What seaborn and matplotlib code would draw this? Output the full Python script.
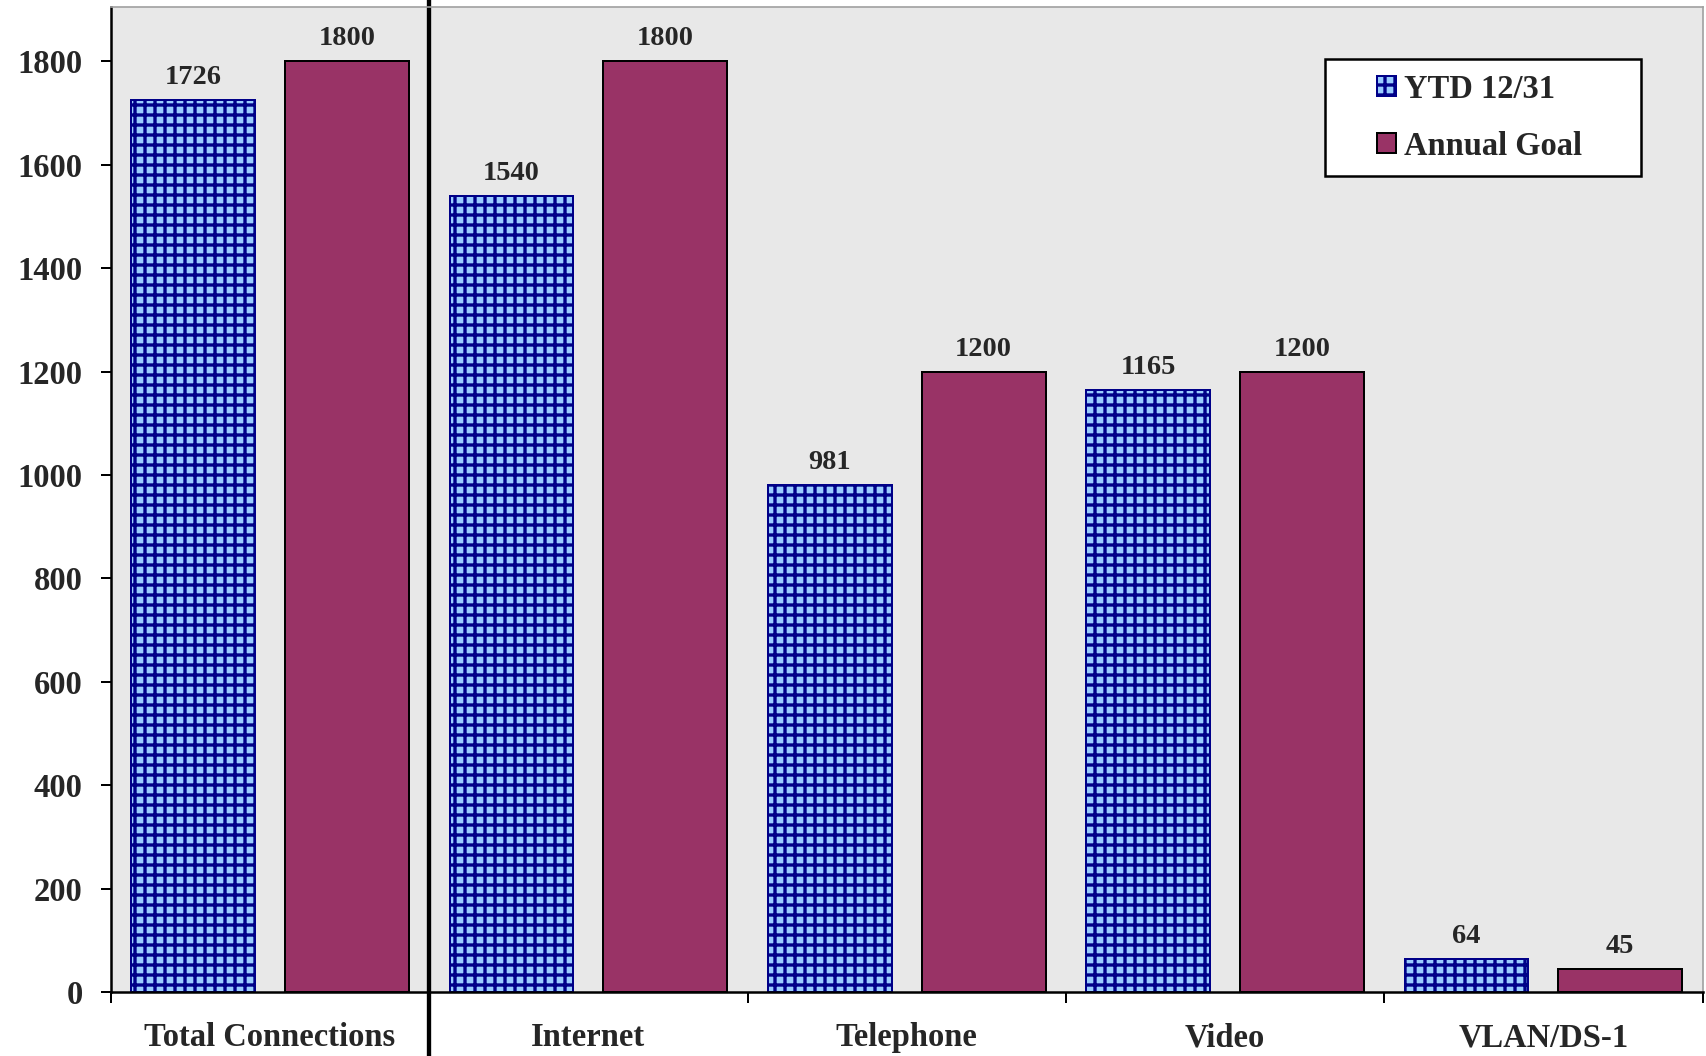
import matplotlib
matplotlib.use("Agg")
import matplotlib.pyplot as plt
from matplotlib.patches import Rectangle
from matplotlib.legend_handler import HandlerPatch, update_from_first_child
import seaborn as sns
import pandas as pd

# Connections by service: year-to-date vs. annual goal
categories = ["Total Connections", "Internet", "Telephone", "Video", "VLAN/DS-1"]
ytd_values = [1726, 1540, 981, 1165, 64]
goal_values = [1800, 1800, 1200, 1200, 45]
series_names = ["YTD 12/31", "Annual Goal"]
y_ticks = [0, 200, 400, 600, 800, 1000, 1200, 1400, 1600, 1800]

df = pd.DataFrame({
    "category": categories * 2,
    "series": [series_names[0]] * len(categories) + [series_names[1]] * len(categories),
    "value": ytd_values + goal_values,
})

sns.set_theme(style="white")
plt.rcParams["font.family"] = ["Liberation Serif", "DejaVu Serif"]
plt.rcParams["font.weight"] = "bold"
plt.rcParams["hatch.linewidth"] = 2.0

DPI = 120
fig = plt.figure(figsize=(1706 / DPI, 1056 / DPI), dpi=DPI)
fig.patch.set_facecolor("white")
ax = fig.add_axes([0.065, 0.0606, 0.933, 0.9328])
ax.set_facecolor("#E8E8E8")

sns.barplot(
    data=df, x="category", y="value", hue="series",
    palette=["#99CCFF", "#993366"], saturation=1,
    width=0.966, gap=0.195, edgecolor="black", linewidth=1.2,
    legend=False, ax=ax,
)

# grid pattern on the year-to-date bars
for bar in ax.containers[0]:
    bar.set_hatch("++")
    bar.set_edgecolor("#000088")

for cont in ax.containers:
    ax.bar_label(cont, fmt="%d", padding=6, fontsize=17, fontweight="bold")

ax.set_xlim(-0.5, len(categories) - 0.5)
ax.set_ylim(0, 1905)
ax.set_yticks(y_ticks)
ax.set_xlabel("")
ax.set_ylabel("")

ax.tick_params(axis="y", left=True, direction="out", length=6, width=1.2,
               pad=11, labelsize=19.5, color="black")
ax.set_xticks(range(len(categories)))
ax.set_xticklabels(categories)
ax.set_xticks([i - 0.5 for i in range(len(categories) + 1)], minor=True)
ax.tick_params(axis="x", which="major", bottom=False, length=0, pad=18, labelsize=19.5)
ax.tick_params(axis="x", which="minor", bottom=True, direction="out",
               length=6.5, width=1.2, color="black")

for side in ["left", "bottom"]:
    ax.spines[side].set_color("black")
    ax.spines[side].set_linewidth(1.5)
for side in ["top", "right"]:
    ax.spines[side].set_color("#A0A0A0")
    ax.spines[side].set_linewidth(1.0)

# separator between the total and the individual services
ax.axvline(0.5, ymin=-0.07, ymax=1.01, color="black", linewidth=2.6, clip_on=False)


def square_at_right(legend, orig_handle, xdescent, ydescent, width, height, fontsize):
    side = height
    return Rectangle((width - side - xdescent, -ydescent), side, side)


handler = HandlerPatch(patch_func=square_at_right, update_func=update_from_first_child)
leg = ax.legend(
    handles=list(ax.containers), labels=series_names,
    loc="upper left", bbox_to_anchor=(0.7626, 0.0, 0.1985, 0.9472), mode="expand",
    frameon=True, fancybox=False, edgecolor="black", framealpha=1,
    fontsize=19.5, handlelength=1.75, handleheight=0.55, handletextpad=0.25,
    labelspacing=0.8, borderpad=0.45, borderaxespad=0,
    handler_map={type(ax.containers[0]): handler},
)
leg.get_frame().set_linewidth(1.5)

fig.savefig("out.png", dpi=DPI)
